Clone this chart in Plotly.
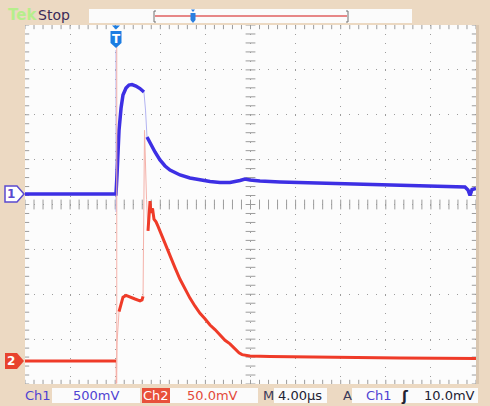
import plotly.graph_objects as go

# ---------------- data (time in µs, voltages in mV) ----------------
ch1_t = [-20.0, -11.93, -11.84, -11.66, -11.48, -11.31, -11.04, -10.78, -10.51, -10.16,
         -9.80, -9.45, -9.31, -9.18, -8.91, -8.47, -8.03, -7.58, -7.14, -6.25, -5.37,
         -4.48, -3.59, -2.71, -1.82, -0.93, -0.49, -0.04, 0.84, 2.62, 4.39, 8.82,
         13.26, 17.69, 19.02, 19.29, 19.47, 19.65, 20.0]
ch1_mv = [0, 0, 212, 713, 958, 1102, 1180, 1214, 1219, 1203,
          1175, 1136, None, 635, 568, 468, 379, 312, 267, 212, 178,
          156, 139, 128, 128, 150, 167, 156, 145, 134, 128, 111,
          100, 84, 78, 45, -15, 50, 62]
ch1_ghost_t = [-9.45, -9.31, -9.18, None, -11.93, -11.93]
ch1_ghost_mv = [1136, 935, 635, None, 1604, -200]

ch2_t = [-20.0, -11.93, None, -11.66, -11.48, -11.31, -11.04, -10.69, -10.24, -9.80,
         -9.62, -9.53, None, -9.09, -9.00, -8.91, -8.83, -8.69, -8.56, -8.38, -8.20,
         -7.85, -7.49, -7.14, -6.70, -6.25, -5.81, -5.37, -4.92, -4.48, -4.04, -3.59,
         -3.15, -2.71, -2.26, -1.82, -1.38, -1.02, -0.75, -0.04, 1.73, 4.39, 8.82,
         13.26, 20.0]
ch2_mv = [0, 0, None, 55, 65, 71, 73, 71, 69, 67,
          68, 72, None, 145, 170, 178, 165, 170, 158, 155, 150,
          139, 128, 117, 104, 91, 80, 70, 61, 53, 47, 40,
          35, 29, 23, 19, 13, 9, 7, 5.6, 5, 4.5, 4,
          3.3, 2.8]
ch2_ghost_t = [-11.93, -11.90, -11.84, -11.66, None, -11.86, -11.86, None,
               -9.53, -9.40, -9.22, -9.09]
ch2_ghost_mv = [0, -25, 20, 55, None, -25, 357, None,
                72, 257, 180, 145]

# scope settings
time_per_div = 4.0        # µs/div
ch1_scale = 500.0         # mV/div
ch2_scale = 50.0          # mV/div
ch1_pos = 0.234           # divisions above centre
ch2_pos = -3.486
n_hdiv, n_vdiv = 10, 8

# ---------------- layout geometry (pixels) ----------------
W, H = 490, 406
L, R, T, B = 25, 476, 25, 384
BG = "#ecd9c2"
GRID = "#9c9c9c"
BLUE = "#3d2fe4"
RED = "#ef3b28"
FONT = "DejaVu Sans"


def xp(px):
    return (px - L) / (R - L)


def yp(py):
    return (B - py) / (B - T)


fig = go.Figure()

# ---------------- graticule ticks (center cross + border) ----------------
half_w = n_hdiv / 2 * time_per_div
minor_x = [(-half_w + i * time_per_div / 5) for i in range(n_hdiv * 5 + 1)]
minor_y = [(-n_vdiv / 2 + i * 0.2) for i in range(n_vdiv * 5 + 1)]
tick_style = dict(color=GRID, width=1)
fig.add_trace(go.Scatter(x=minor_x, y=[0] * len(minor_x), mode="markers", yaxis="y",
                         marker=dict(symbol="line-ns", size=7, line=tick_style),
                         hoverinfo="skip", showlegend=False))
fig.add_trace(go.Scatter(x=[0] * len(minor_y), y=minor_y, mode="markers", yaxis="y",
                         marker=dict(symbol="line-ew", size=7, line=tick_style),
                         hoverinfo="skip", showlegend=False))
for yy in (-n_vdiv / 2, n_vdiv / 2):
    fig.add_trace(go.Scatter(x=minor_x, y=[yy] * len(minor_x), mode="markers", yaxis="y",
                             marker=dict(symbol="line-ns", size=6, line=tick_style),
                             hoverinfo="skip", showlegend=False))
for xx in (-half_w, half_w):
    fig.add_trace(go.Scatter(x=[xx] * len(minor_y), y=minor_y, mode="markers", yaxis="y",
                             marker=dict(symbol="line-ew", size=6, line=tick_style),
                             hoverinfo="skip", showlegend=False))

# ---------------- waveforms ----------------
fig.add_trace(go.Scatter(x=ch1_ghost_t, y=ch1_ghost_mv, yaxis="y2", mode="lines",
                         line=dict(color="#b3b4f2", width=1), hoverinfo="skip",
                         showlegend=False))
fig.add_trace(go.Scatter(x=ch2_ghost_t, y=ch2_ghost_mv, yaxis="y3", mode="lines",
                         line=dict(color="#f5b2aa", width=1), hoverinfo="skip",
                         showlegend=False))
fig.add_trace(go.Scatter(x=ch1_t, y=ch1_mv, yaxis="y2", mode="lines", name="Ch1",
                         line=dict(color=BLUE, width=3.5), connectgaps=False,
                         showlegend=False))
fig.add_trace(go.Scatter(x=ch2_t, y=ch2_mv, yaxis="y3", mode="lines", name="Ch2",
                         line=dict(color=RED, width=3), connectgaps=False,
                         showlegend=False))

# ---------------- axes ----------------
half_h = n_vdiv / 2
fig.update_layout(
    width=W, height=H,
    margin=dict(l=L, r=W - R, t=T, b=H - B, pad=0),
    paper_bgcolor=BG, plot_bgcolor="#fcfcfc",
    font=dict(family=FONT),
    showlegend=False,
    xaxis=dict(range=[-half_w, half_w], dtick=time_per_div, tick0=0,
               showgrid=True, gridcolor=GRID, gridwidth=1, griddash="1px,8px",
               zeroline=False, showticklabels=False, ticks="", showline=False,
               fixedrange=True),
    yaxis=dict(range=[-half_h, half_h], dtick=1, tick0=0,
               showgrid=True, gridcolor=GRID, gridwidth=1, griddash="1px,8px",
               zeroline=False, showticklabels=False, ticks="", showline=False,
               fixedrange=True),
    yaxis2=dict(range=[(-half_h - ch1_pos) * ch1_scale, (half_h - ch1_pos) * ch1_scale],
                overlaying="y", visible=False, fixedrange=True),
    yaxis3=dict(range=[(-half_h - ch2_pos) * ch2_scale, (half_h - ch2_pos) * ch2_scale],
                overlaying="y", visible=False, fixedrange=True),
)

shapes = []
annotations = []


def rect(x0, y0, x1, y1, fill, line=None):
    shapes.append(dict(type="rect", xref="paper", yref="paper",
                       x0=xp(x0), x1=xp(x1), y0=yp(y1), y1=yp(y0),
                       fillcolor=fill, line=dict(width=0 if line is None else 1,
                                                 color=line or fill), layer="above"))


def path(pts, fill, line_color=None, lw=0):
    d = "M " + " L ".join(f"{xp(a):.5f},{yp(b):.5f}" for a, b in pts) + " Z"
    shapes.append(dict(type="path", xref="paper", yref="paper", path=d,
                       fillcolor=fill, line=dict(color=line_color or fill, width=lw),
                       layer="above"))


def text(px, py, s, color, size=13, anchor="left", bold=False):
    annotations.append(dict(xref="paper", yref="paper", x=xp(px), y=yp(py),
                            text=f"<b>{s}</b>" if bold else s, showarrow=False,
                            xanchor=anchor, yanchor="middle",
                            font=dict(family=FONT, size=size, color=color)))


# right shadow of screen
rect(476, 25, 479, 384, "#d9c6b0")

# top status bar
text(6, 15, "Tek", "#b6ee8c", size=15, bold=True)
text(36, 15, "Stop", "#3b2b58", size=14)
rect(89, 9, 412, 23, "#fbfbfb")
shapes.append(dict(type="line", xref="paper", yref="paper", x0=xp(155), x1=xp(347),
                   y0=yp(16), y1=yp(16), line=dict(color="#e06060", width=1.3),
                   layer="above"))
for bx, sgn in ((154, 1), (348, -1)):
    shapes.append(dict(type="path", xref="paper", yref="paper",
                       path=f"M {xp(bx + 2 * sgn)},{yp(11)} L {xp(bx)},{yp(11)} "
                            f"L {xp(bx)},{yp(22)} L {xp(bx + 2 * sgn)},{yp(22)}",
                       line=dict(color="#707070", width=1), layer="above"))
path([(190.5, 13), (195.5, 13), (195.5, 20), (193, 23), (190.5, 20)], "#2a7fe0")
path([(191, 9.5), (195, 9.5), (193, 12)], "#2a7fe0")

# trigger position marker
path([(110.5, 31), (121.5, 31), (121.5, 43), (116, 48), (110.5, 43)], "#1c7de2")
path([(112, 25.5), (120, 25.5), (116, 29.5)], "#1c7de2")
text(116, 39, "T", "white", size=12, anchor="center", bold=True)

# channel ground markers
y1px = (T + B) / 2 - ch1_pos * (B - T) / n_vdiv
y2px = (T + B) / 2 - ch2_pos * (B - T) / n_vdiv
path([(5, y1px - 8), (17, y1px - 8), (24, y1px), (17, y1px + 8), (5, y1px + 8)],
     "white", "#5a4ad0", 1.5)
text(11, y1px, "1", "#5a4ad0", size=12, anchor="center", bold=True)
path([(5, y2px - 8), (17, y2px - 8), (24, y2px), (17, y2px + 8), (5, y2px + 8)],
     "#e8432e")
text(11, y2px, "2", "white", size=12, anchor="center", bold=True)

# bottom readout bar
by = 395.5
rect(52, 388, 140, 403, "#fbfbfb")
rect(142, 388, 170, 403, "#e8503a")
rect(170, 388, 258, 403, "#fbfbfb")
rect(274, 388, 327, 403, "#fbfbfb")
rect(352, 388, 478, 403, "#fbfbfb")
text(23, by, "Ch1", "#4f42d2", size=13)
text(96, by, f"{ch1_scale:.0f}mV", "#4f42d2", size=13, anchor="center")
text(156, by, "Ch2", "white", size=13, anchor="center")
text(212, by, f"{ch2_scale:.1f}mV", "#e3493a", size=13, anchor="center")
text(261, by, "M", "#3a3a5a", size=13)
text(300, by, f"{time_per_div:.2f}µs", "#222233", size=13, anchor="center")
text(341, by, "A", "#3a3a5a", size=13)
text(364, by, "Ch1", "#4f42d2", size=13)
text(405, by, "ʃ", "#222233", size=14, anchor="center", bold=True)
text(477, by, "10.0mV", "#222233", size=13, anchor="right")

fig.update_layout(shapes=shapes, annotations=annotations)
fig.write_html("out.html", config={"displayModeBar": False},
               post_script="document.body.style.margin='0';"
                           "document.body.style.padding='0';"
                           "document.body.style.overflow='hidden';")
